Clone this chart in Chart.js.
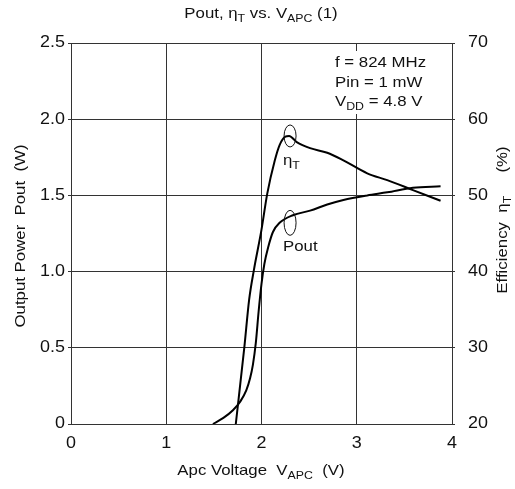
<!DOCTYPE html>
<html>
<head>
<meta charset="utf-8">
<script src="https://cdn.jsdelivr.net/npm/chart.js@4/dist/chart.umd.min.js"></script>
<style>
html,body{margin:0;padding:0;background:#fff;}
#wrap{width:515px;height:489px;}
</style>
</head>
<body>
<div id="wrap"><canvas id="c" width="515" height="489"></canvas></div>
<script>
// ---- data ----
const xTicks = [0, 1, 2, 3, 4];
const leftTicks = [0, 0.5, 1.0, 1.5, 2.0, 2.5];
const leftTickLabels = ['0', '0.5', '1.0', '1.5', '2.0', '2.5'];
const rightTicks = [20, 30, 40, 50, 60, 70];

const vapcEff = [1.73, 1.82, 1.87, 1.92, 2.00, 2.06, 2.14, 2.19, 2.25, 2.29, 2.37, 2.51, 2.69, 2.86, 3.11, 3.32, 3.59, 3.88];
const effT    = [20.0, 30.1, 36.3, 40.2, 45.5, 50.2, 54.6, 56.6, 57.7, 57.8, 57.0, 56.2, 55.6, 54.6, 52.9, 52.0, 50.7, 49.3];

const vapcPout = [1.49, 1.60, 1.70, 1.78, 1.84, 1.88, 1.91, 1.94, 1.97, 2.00, 2.03, 2.07, 2.12, 2.19, 2.33, 2.51, 2.69, 2.86, 3.11, 3.32, 3.59, 3.88];
const pout     = [0.00, 0.04, 0.09, 0.15, 0.22, 0.30, 0.39, 0.53, 0.74, 0.92, 1.05, 1.16, 1.26, 1.32, 1.37, 1.40, 1.44, 1.47, 1.50, 1.52, 1.55, 1.56];

const FONT = '"Liberation Sans", Arial, sans-serif';
const SX = 1.12; // horizontal widening of the lettering

// draws a run of normal / subscript segments; align: 'center' | 'left' | 'right'
function drawRich(ctx, segs, x, y, size, align, rot) {
  ctx.save();
  ctx.translate(x, y);
  if (rot) ctx.rotate(rot);
  ctx.scale(SX, 1);
  let total = 0;
  segs.forEach(s => {
    ctx.font = (s.sub ? Math.round(size * 0.75) : size) + 'px ' + FONT;
    s.w = ctx.measureText(s.t).width;
    total += s.w;
  });
  let cx = align === 'left' ? 0 : align === 'right' ? -total : -total / 2;
  ctx.fillStyle = '#111';
  ctx.textBaseline = 'middle';
  ctx.textAlign = 'left';
  segs.forEach(s => {
    ctx.font = (s.sub ? Math.round(size * 0.75) : size) + 'px ' + FONT;
    ctx.fillText(s.t, cx, s.sub ? size * 0.3 : 0);
    cx += s.w;
  });
  ctx.restore();
}

const decor = {
  id: 'decor',
  afterDraw(chart) {
    const ctx = chart.ctx;
    const xs = chart.scales.x, yl = chart.scales.y, yr = chart.scales.y2;
    // tick labels
    xTicks.forEach(v => drawRich(ctx, [{t: String(v)}], xs.getPixelForValue(v), 444, 16, 'center'));
    leftTicks.forEach((v, i) => drawRich(ctx, [{t: leftTickLabels[i]}], 65, yl.getPixelForValue(v), 16, 'right'));
    rightTicks.forEach(v => drawRich(ctx, [{t: String(v)}], 468, yr.getPixelForValue(v), 16, 'left'));
    // title
    drawRich(ctx, [{t:'Pout, η'},{t:'T',sub:1},{t:' vs. V'},{t:'APC',sub:1},{t:' (1)'}], 261, 14, 15, 'center');
    // x title
    drawRich(ctx, [{t:'Apc Voltage  V'},{t:'APC',sub:1},{t:'  (V)'}], 261, 471, 15, 'center');
    // left title
    drawRich(ctx, [{t:'Output Power  Pout  (W)'}], 21, 236, 15, 'center', -Math.PI / 2);
    // right title
    drawRich(ctx, [{t:'Efficiency  η'},{t:'T',sub:1},{t:'     (%)'}], 503, 220, 15, 'center', -Math.PI / 2);
    // condition box
    ctx.save();
    ctx.fillStyle = '#fff';
    ctx.fillRect(331, 51, 112, 63);
    ctx.restore();
    drawRich(ctx, [{t:'f = 824 MHz'}], 335, 63, 15, 'left');
    drawRich(ctx, [{t:'Pin = 1 mW'}], 335, 83, 15, 'left');
    drawRich(ctx, [{t:'V'},{t:'DD',sub:1},{t:' = 4.8 V'}], 335, 102, 15, 'left');
    // ellipses
    ctx.save();
    ctx.strokeStyle = '#111';
    ctx.lineWidth = 1;
    ctx.beginPath();
    ctx.ellipse(xs.getPixelForValue(2.30), yr.getPixelForValue(57.8), 6, 11, 0, 0, Math.PI * 2);
    ctx.stroke();
    ctx.beginPath();
    ctx.ellipse(xs.getPixelForValue(2.30), yl.getPixelForValue(1.32), 6, 12.5, 0, 0, Math.PI * 2);
    ctx.stroke();
    ctx.restore();
    drawRich(ctx, [{t:'η'},{t:'T',sub:1}], 283, 161, 15, 'left');
    drawRich(ctx, [{t:'Pout'}], 283, 247, 15, 'left');
  }
};

const gridColor = '#333';
new Chart(document.getElementById('c'), {
  type: 'line',
  data: {
    datasets: [
      {
        label: 'ηT',
        data: vapcEff.map((v, i) => ({x: v, y: effT[i]})),
        yAxisID: 'y2',
        borderColor: '#000', borderWidth: 2, pointRadius: 0,
        cubicInterpolationMode: 'monotone', fill: false
      },
      {
        label: 'Pout',
        data: vapcPout.map((v, i) => ({x: v, y: pout[i]})),
        yAxisID: 'y',
        borderColor: '#000', borderWidth: 2, pointRadius: 0,
        cubicInterpolationMode: 'monotone', fill: false
      }
    ]
  },
  options: {
    responsive: false,
    animation: false,
    devicePixelRatio: 1,
    layout: { padding: { top: 43, left: 0, right: 0, bottom: 0 } },
    plugins: { legend: { display: false }, title: { display: false }, tooltip: { enabled: false } },
    scales: {
      x: {
        type: 'linear', min: 0, max: 4,
        afterBuildTicks: s => { s.ticks = xTicks.map(v => ({value: v})); },
        afterFit: s => { s.height = 65; },
        grid: { color: gridColor, lineWidth: 1, drawTicks: false },
        border: { color: gridColor, width: 1 },
        ticks: { display: false }
      },
      y: {
        type: 'linear', position: 'left', min: 0, max: 2.5,
        afterBuildTicks: s => { s.ticks = leftTicks.map(v => ({value: v})); },
        afterFit: s => { s.width = 71; },
        grid: { color: gridColor, lineWidth: 1, tickLength: 3 },
        border: { color: gridColor, width: 1 },
        ticks: { display: false }
      },
      y2: {
        type: 'linear', position: 'right', min: 20, max: 70,
        afterBuildTicks: s => { s.ticks = rightTicks.map(v => ({value: v})); },
        afterFit: s => { s.width = 63; },
        grid: { drawOnChartArea: false, color: gridColor, lineWidth: 1, tickLength: 3 },
        border: { color: gridColor, width: 1 },
        ticks: { display: false }
      }
    }
  },
  plugins: [decor]
});
</script>
</body>
</html>
